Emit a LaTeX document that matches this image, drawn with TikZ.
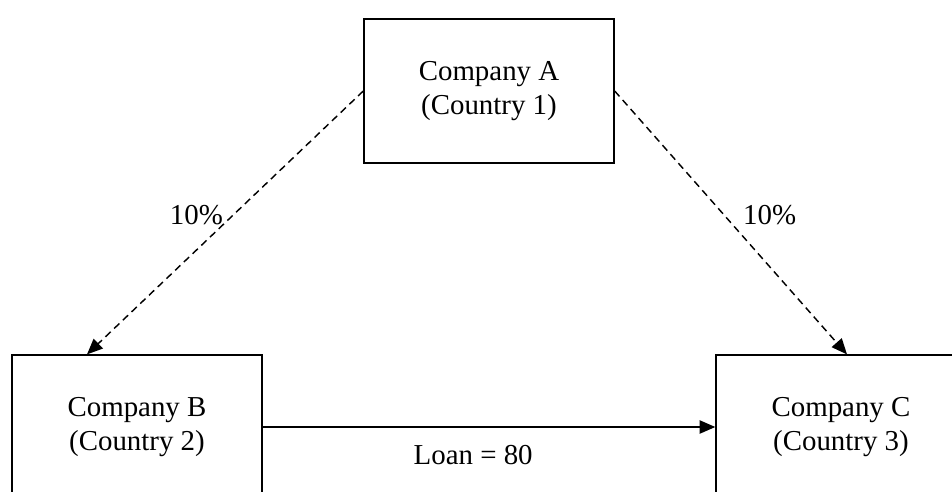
\documentclass[tikz,border=0pt]{standalone}
\usepackage{fontspec}
\setmainfont{Liberation Serif}
\usetikzlibrary{arrows.meta,calc}

\begin{document}
\begin{tikzpicture}[x=0.0146cm, y=-0.0146cm, font=\fontsize{12}{14.4}\selectfont,
        firm/.style={draw, line width=0.6pt, minimum width=3.65cm, minimum height=2.1cm, align=center},
        share/.style={line width=0.6pt, dash pattern=on 3pt off 2pt, -{Triangle[length=6.5pt, width=5.5pt]}},
        loan/.style={line width=0.6pt, -{Triangle[length=6.5pt, width=5.5pt]}}]
    \useasboundingbox (0, 0) rectangle (952, 491);
        \draw
            (489, 91) node (a) [firm] {Company A\\(Country 1)}
            (137, 427) node (b) [firm] {Company B\\(Country 2)}
            (841, 427) node (c) [firm] {Company C\\(Country 3)}

            (a.west) edge [share] node [pos=0.47, xshift=-15.4pt] {10\%} ($(b.north)+(-50, 0)$)
            (a.east) edge [share] node [pos=0.47, xshift=19pt] {10\%} ($(c.north)+(6, 0)$)
            (b.east) edge [loan] node [pos=0.465, yshift=-11.6pt] {Loan = 80} (c.west)
        ;
    \end{tikzpicture}
\end{document}
